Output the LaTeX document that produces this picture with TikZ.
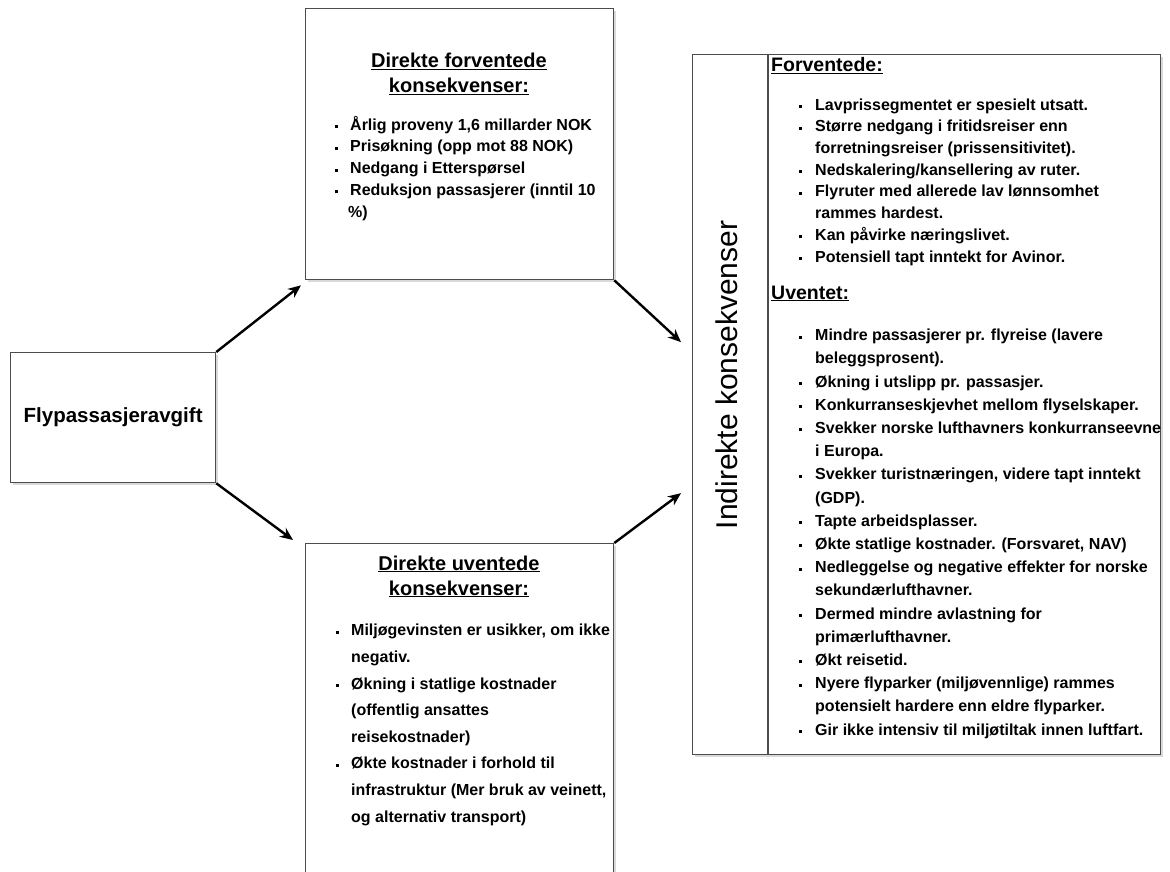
\documentclass[tikz,border=0pt]{standalone}
\usepackage{fontspec}
\setmainfont{Liberation Sans}
\usetikzlibrary{positioning,arrows.meta,shadows}

% liten firkantet kulepunkt, med bredde til teksten
\newcommand{\prikk}[1][15pt]{\makebox[#1][l]{\raisebox{2pt}{\rule{3pt}{3pt}}}}

\tikzset{
  boks/.style={draw=black!70, line width=1.3pt, fill=white, anchor=north west, inner sep=0pt,
    drop shadow={shadow xshift=2pt, shadow yshift=-2pt, opacity=0.3}},
  kant/.style={draw=black!70, line width=1.3pt},
  % flerlinjede noder: base = grunnlinjen til siste linje
  tittel/.style={font=\bfseries\fontsize{20}{25}\selectfont, align=center, anchor=base, inner sep=0pt},
  undertittel/.style={font=\bfseries\fontsize{19.5}{24}\selectfont, anchor=base west, inner sep=0pt},
  liste/.style={font=\bfseries\fontsize{16}{21.7}\selectfont, align=left, anchor=base west, inner sep=0pt},
  pil/.style={line width=2.4pt, -{Stealth[length=13pt,width=11pt]}}
}

\begin{document}
\begin{tikzpicture}[x=1pt,y=-1pt]
    \clip (0,0) rectangle (1170,872);

    % avgiften
    \node[boks, minimum width=205pt, minimum height=130pt, font=\bfseries\fontsize{20.5}{24}\selectfont] (avgift) at (10,352) {Flypassasjeravgift};

    % direkte forventede
    \node[boks, minimum width=308pt, minimum height=271pt] (forv) at (305,8) {};
    \node[tittel] (forvtittel) at (459,93) {\underline{Direkte forventede}\\\underline{konsekvenser:}};
    \node[liste] (forvliste) at (335,217) {
        \prikk Årlig proveny 1,6 millarder NOK\\
        \prikk Prisøkning (opp mot 88 NOK)\\
        \prikk Nedgang i Etterspørsel\\
        \prikk Reduksjon passasjerer (inntil 10\\
        \hspace*{13pt}\%)
    };

    % direkte uventede
    \node[boks, minimum width=308pt, minimum height=340pt] (uforv) at (305,543) {};
    \node[tittel] (uforvtittel) at (459,595) {\underline{Direkte uventede}\\\underline{konsekvenser:}};
    \node[liste, font=\bfseries\fontsize{16}{26.6}\selectfont] (uforvliste) at (336,822) {
        \prikk Miljøgevinsten er usikker, om ikke\\
        \hspace*{15pt}negativ.\\
        \prikk Økning i statlige kostnader\\
        \hspace*{15pt}(offentlig ansattes\\
        \hspace*{15pt}reisekostnader)\\
        \prikk Økte kostnader i forhold til\\
        \hspace*{15pt}infrastruktur (Mer bruk av veinett,\\
        \hspace*{15pt}og alternativ transport)
    };

    % indirekte konsekvenser
    \node[boks, minimum width=468pt, minimum height=700pt] (indir) at (692,54) {};
    \draw[kant] ([xshift=76pt]indir.north west) -- ([xshift=76pt]indir.south west);
    \node[rotate=90, font=\fontsize{30}{36}\selectfont] (indirtittel) at (727,375) {Indirekte konsekvenser};

    \node[undertittel] (fvtittel) at (771,72) {\underline{Forventede:}};
    \node[liste] (fvliste) at (799,262) {
        \prikk[16pt]Lavprissegmentet er spesielt utsatt.\\
        \prikk[16pt]Større nedgang i fritidsreiser enn\\
        \hspace*{16pt}forretningsreiser (prissensitivitet).\\
        \prikk[16pt]Nedskalering/kansellering av ruter.\\
        \prikk[16pt]Flyruter med allerede lav lønnsomhet\\
        \hspace*{16pt}rammes hardest.\\
        \prikk[16pt]Kan påvirke næringslivet.\\
        \prikk[16pt]Potensiell tapt inntekt for Avinor.
    };

    \node[undertittel] (uvtittel) at (771,299) {\underline{Uventet:}};
    \node[liste, font=\bfseries\fontsize{16}{23.2}\selectfont] (uvliste) at (799,735) {
        \prikk[16pt]Mindre passasjerer pr. flyreise (lavere\\
        \hspace*{16pt}beleggsprosent).\\
        \prikk[16pt]Økning i utslipp pr. passasjer.\\
        \prikk[16pt]Konkurranseskjevhet mellom flyselskaper.\\
        \prikk[16pt]Svekker norske lufthavners konkurranseevne\\
        \hspace*{16pt}i Europa.\\
        \prikk[16pt]Svekker turistnæringen, videre tapt inntekt\\
        \hspace*{16pt}(GDP).\\
        \prikk[16pt]Tapte arbeidsplasser.\\
        \prikk[16pt]Økte statlige kostnader. (Forsvaret, NAV)\\
        \prikk[16pt]Nedleggelse og negative effekter for norske\\
        \hspace*{16pt}sekundærlufthavner.\\
        \prikk[16pt]Dermed mindre avlastning for\\
        \hspace*{16pt}primærlufthavner.\\
        \prikk[16pt]Økt reisetid.\\
        \prikk[16pt]Nyere flyparker (miljøvennlige) rammes\\
        \hspace*{16pt}potensielt hardere enn eldre flyparker.\\
        \prikk[16pt]Gir ikke intensiv til miljøtiltak innen luftfart.
    };

    % piler
    \draw[pil] (avgift.north east) -- ([xshift=-4pt,yshift=-5pt]forv.south west);
    \draw[pil] (avgift.south east) -- ([xshift=-12pt,yshift=3pt]uforv.north west);
    \draw[pil] (forv.south east) -- ([xshift=-11pt,yshift=62.5pt]indir.west);
    \draw[pil] (uforv.north east) -- ([xshift=-11pt,yshift=-88.5pt]indir.west);
\end{tikzpicture}
\end{document}
